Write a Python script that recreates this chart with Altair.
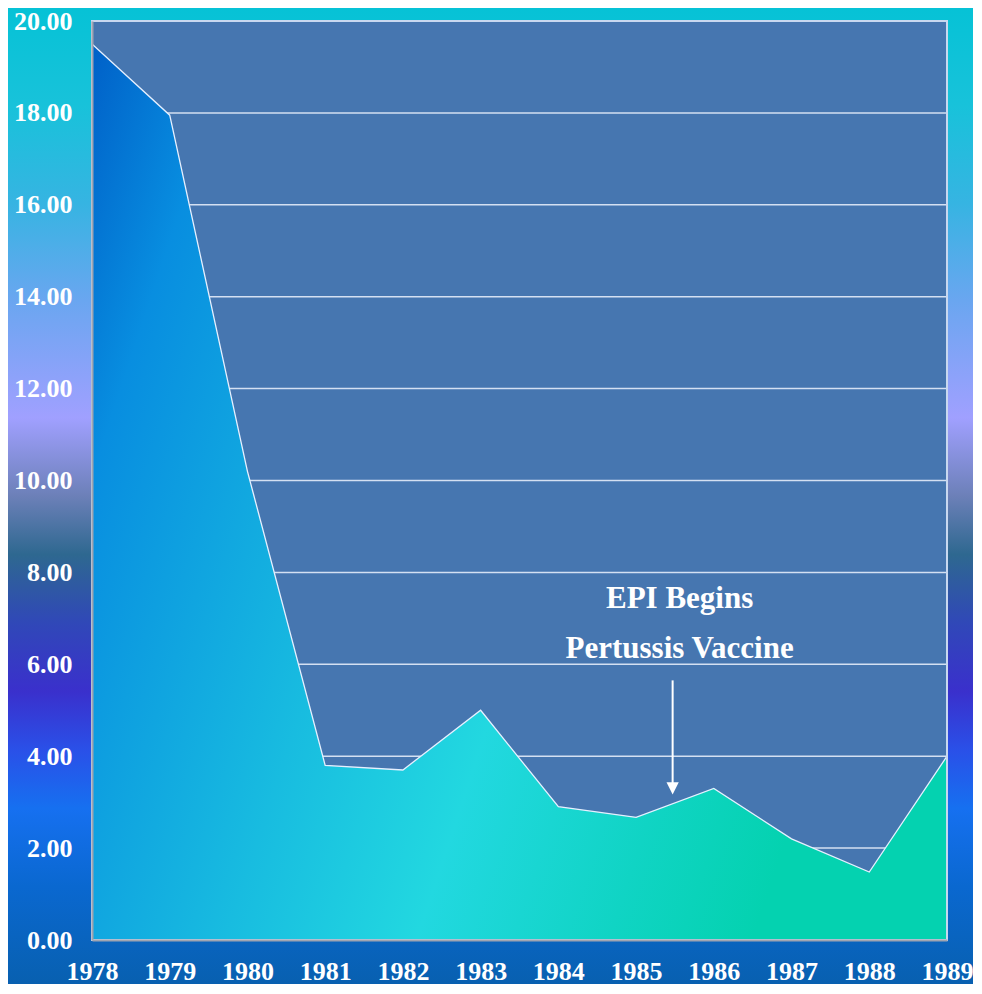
import altair as alt
import pandas as pd

years = [1978, 1979, 1980, 1981, 1982, 1983, 1984, 1985, 1986, 1987, 1988, 1989]
values = [19.5, 17.95, 10.2, 3.8, 3.7, 5.0, 2.9, 2.67, 3.3, 2.2, 1.48, 4.0]
y_ticks = [0, 2, 4, 6, 8, 10, 12, 14, 16, 18, 20]
grid_vals = [2, 4, 6, 8, 10, 12, 14, 16, 18]
note_lines = ["EPI Begins", "Pertussis Vaccine"]
note_x = [1985.56, 1985.56]
note_y = [7.42, 6.33]
arrow_x = 1985.47
arrow_top = 5.65
arrow_tip = 3.3

W, H = 855, 919
PL, PT, PR, PB = 84, 13, 26, 44

df = pd.DataFrame({"year": years, "value": values})
grid_df = pd.DataFrame({"g": grid_vals})
note_df = pd.DataFrame({"x": note_x, "y": note_y, "t": note_lines})
arrow_df = pd.DataFrame({"x": [arrow_x], "y": [arrow_top], "y2": [arrow_tip]})
one = alt.Data(values=[{"k": 1}])

xs = alt.Scale(domain=[1978, 1989], nice=False, zero=False)
ys = alt.Scale(domain=[0, 20], nice=False)

def stops(lst):
    return [alt.GradientStop(offset=o, color=c) for o, c in lst]

bg_grad = alt.LinearGradient(
    gradient="linear", x1=0, x2=0, y1=0, y2=1,
    stops=stops([
        (0.0, "#06c2d6"), (0.1, "#18c2da"), (0.2, "#36b4e2"), (0.3, "#6aa6f0"),
        (0.42, "#a0a0ff"), (0.5, "#6c80b8"), (0.56, "#2e6890"), (0.63, "#3048b8"),
        (0.70, "#3a30cc"), (0.76, "#2a50e8"), (0.82, "#1670f0"), (0.9, "#0a68d0"),
        (1.0, "#0860b0"),
    ]),
)

area_grad = alt.LinearGradient(
    gradient="linear", x1=0, x2=1, y1=0, y2=0.35,
    stops=stops([
        (0.0, "#0060c8"), (0.15, "#088ee0"), (0.45, "#18bce0"),
        (0.65, "#22d8e0"), (0.85, "#10d4c4"), (1.0, "#04d2b0"),
    ]),
)

axis_common = dict(
    title=None, grid=False, ticks=False, domainColor="#a0a4b0",
    domainWidth=2, zindex=2, labelFont="Liberation Serif", labelFontWeight="bold",
    labelFontSize=26, labelColor="white", labelFlush=False, labelOverlap=False,
)

bg = alt.Chart(one).mark_rect(fill=bg_grad, strokeWidth=0).encode(
    x=alt.value(-PL), x2=alt.value(W + PR), y=alt.value(-PT), y2=alt.value(H + PB)
)

plot_fill = alt.Chart(one).mark_rect(fill="#4676b0", strokeWidth=0).encode(
    x=alt.value(0), x2=alt.value(W), y=alt.value(0), y2=alt.value(H)
)

grid = alt.Chart(grid_df).mark_rule(color="#d4e0f2", strokeWidth=1.5).encode(
    y=alt.Y("g:Q", scale=ys), x=alt.value(0), x2=alt.value(W)
)

area = alt.Chart(df).mark_area(fill=area_grad, line=False).encode(
    x=alt.X("year:Q", scale=xs,
            axis=alt.Axis(values=years, format="d", labelPadding=18, **axis_common)),
    y=alt.Y("value:Q", scale=ys,
            axis=alt.Axis(values=y_ticks, format=".2f", labelPadding=20, **axis_common)),
)

line = alt.Chart(df).mark_line(color="#e6f0ff", strokeWidth=1.3).encode(
    x=alt.X("year:Q", scale=xs), y=alt.Y("value:Q", scale=ys)
)

frame = alt.Chart(one).mark_rect(fill=None, stroke="#c8d8f0", strokeWidth=2).encode(
    x=alt.value(0), x2=alt.value(W), y=alt.value(0), y2=alt.value(H)
)

arrow_shaft = alt.Chart(arrow_df).mark_rule(color="white", strokeWidth=2).encode(
    x=alt.X("x:Q", scale=xs), y=alt.Y("y:Q", scale=ys), y2="y2:Q"
)
arrow_head = alt.Chart(arrow_df).mark_point(
    shape="M-1,-1L1,-1L0,1Z", filled=True, color="white", opacity=1, size=150
).encode(x=alt.X("x:Q", scale=xs), y=alt.Y("y2:Q", scale=ys))

notes = alt.Chart(note_df).mark_text(
    font="Liberation Serif", fontWeight="bold", fontSize=31, color="white", align="center", baseline="middle"
).encode(x=alt.X("x:Q", scale=xs), y=alt.Y("y:Q", scale=ys), text="t:N")

chart = alt.layer(
    bg, plot_fill, grid, area, line, frame, arrow_shaft, arrow_head, notes
).properties(
    width=W, height=H,
    autosize=alt.AutoSizeParams(type="none"),
    padding={"left": PL, "top": PT, "right": PR, "bottom": PB},
).configure_view(stroke=None)

chart.save("out.html", embed_options={"renderer": "svg", "actions": False})
